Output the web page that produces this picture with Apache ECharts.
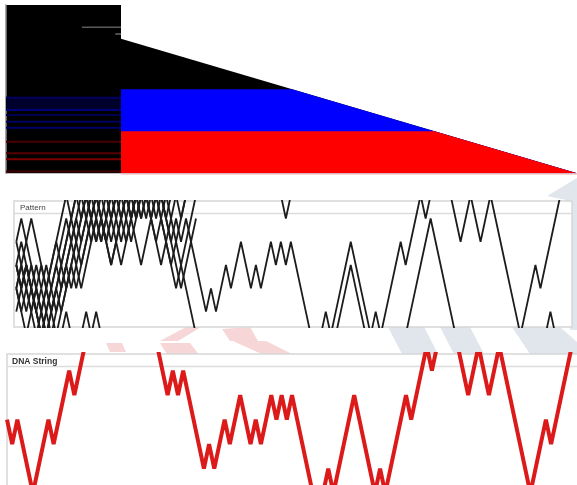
<!DOCTYPE html>
<html><head><meta charset="utf-8">
<script src="https://cdn.jsdelivr.net/npm/echarts/dist/echarts.min.js"></script>
<style>html,body{margin:0;padding:0;background:#fff}#c{width:577px;height:485px}</style>
</head><body><div id="c"></div>
<script>
// ---------- DATA ----------
// DNA walk (one value per base, +1 / -1 steps)
const dnaWalk = [3,2,3,2,1,0,1,2,3,2, 3,4,5,4,5,6,7,8,7,8, 9,10,9,8,9,8,7,8,7,6,
  5,4,5,4,5,4,3,2,1,2, 1,2,3,2,3,4,3,2,3,2, 3,4,3,4,3,4,3,2,1,0,
  -1,0,1,0,1,2,3,4,3,2, 1,0,1,0,1,2,3,4,3,4, 5,6,5,6,7,8,7,6,5,4,
  5,6,5,4,5,6,5,4,3,2, 1,0,1,2,3,2,3,4,5,6, 7];

// pattern walks overlaid at the start of the string
const pattern1 = [2,3,4,5,4,3,2,1,0,1, 2,3,4,5,6,5,6,5,4,5, 6,7,6,5,6,5,6,7,6,5, 6,5,4,3,2,1,0];
const pattern2 = [3,2,3,2,1,0,-1,0,1,2, 3,2,3,2,3,4,5,4,5,6, 5,6,7,6,5,6,7,8,7,8, 9,8,9,10,9,10,11];
const pattern3 = [2,1,2,1,0,1,0,1,2,3, 4,5,4,5,6,5,4,5,4,3, 4,3,4,5,6,5,6,5,4,5, 4,3,2,3,4,5,6];
const pattern4 = [3,4,3,2,1,0,1,0,-1,0, 1,0,-1,0,1,0,1,0,-1,-2, -1,-2,-3,-2,-3,-4,-3,-4,-5,-4, -5,-6,-5,-6,-7,-6,-7];
const pattern5 = [4,5,4,3,2,3,2,3,4,5, 6,5,6,7,6,5,6,5,4,3, 4,5,6,5,4,3,4,5,6,7, 8,7,6,7,8,9,8];
const pattern6 = [2,3,2,3,2,1,2,3,4,3, 4,5,6,5,6,7,6,7,6,5, 6,5,6,5,6,7,8,7,6,5, 4,3,4,5,6,7,8];
const pattern7 = [1,2,3,2,1,2,1,2,3,4, 5,4,5,6,5,6,5,4,5,6, 7,6,5,4,5,6,5,6,7,6, 5,4,3,2,3,4,5];
const pattern8 = [3,2,1,2,3,2,3,2,1,2, 3,4,3,4,5,4,5,6,5,4, 5,4,5,6,5,6,7,6,5,6, 5,6,7,8,9,8,9];
const pattern9 = [2,1,0,1,2,1,2,1,2,3, 2,3,4,3,4,5,4,5,4,5, 6,5,4,5,6,7,6,5,4,3, 4,5,6,5,6,7,8];
const pattern10 = [4,3,2,1,2,1,0,1,2,1, 2,3,2,3,4,5,6,5,6,5, 4,5,6,7,6,7,6,5,6,7, 6,7,8,9,10,11,12];
// other matches further along, with their start position
const match2Start = 63;
const match2 = [-1,0,1,2,3,2,1,0,-1,-2, -3,-2,-3,-2,-1,0,1,2,3,4, 5,4,3,2,1,0,-1,-2,-3,-4, -5,-6,-7,-8,-9,-8,-7,-6,-5,-4, -3,-2,-1,0,1,0,-1,-2];
const match3Start = 47;
const match3 = [8,7,6,7,8,7,6,5,6,7,8];

// top panel: share layers (percent) - total at start, blue cumulative, red
const layerNames = ['all', 'blue', 'red'];
const layerStart = [80, 50, 25];
const layerColors = ['#000000', '#0000ff', '#ff0000'];

// left block rows (level, colour, width, start fraction)
const rowLevels = [41.6, 44.9, 37.6, 34.6, 30.7, 27.1, 18.8, 11.9, 8.3, 1.0, 86.8, 82.8];
const rowColors = ['#00002c', '#00005a', '#00007a', '#000050', '#000060', '#000068', '#4a0000', '#580000', '#7a0000', '#400000', '#5a5a5a', '#666666'];
const rowWidths = [13, 2, 2, 2, 2, 2, 2, 2, 2, 2, 1.5, 1.5];
const rowStarts = [0, 0, 0, 0, 0, 0, 0, 0, 0, 0, 0.66, 0.95];

// ---------- CHART ----------
const chart = echarts.init(document.getElementById('c'), null, {renderer: 'canvas'});
const hidden = {show: false};
function vAxis(gi, min, max, extra) {
  return Object.assign({type: 'value', gridIndex: gi, min: min, max: max, axisLine: hidden, axisTick: hidden, axisLabel: hidden, splitLine: hidden}, extra || {});
}
const grids = [
  {left: 6, top: 5, width: 115, height: 168.3, show: true, backgroundColor: '#000', borderWidth: 0},
  {left: 121, top: 5, width: 456, height: 168.3},
  {left: 16.3, top: 201, width: 549.1, height: 126},
  {left: 7, top: 354, width: 572, height: 131}
];
const xAxes = [
  vAxis(0, 0, 1),
  vAxis(1, 0, 100, {position: 'top', axisLine: {show: true, lineStyle: {color: '#f7cccc', width: 1.5}}}),
  vAxis(2, 0, 110),
  vAxis(3, 0, 110)
];
const yAxes = [
  vAxis(0, 0, 100, {axisLine: {show: true, lineStyle: {color: '#8a8a8a', width: 1.5}}}),
  vAxis(1, 0, 100),
  vAxis(2, 0.34, 5.75),
  vAxis(3, 0.33, 5.68)
];
const series = [];
rowLevels.forEach((lv, i) => {
  series.push({type: 'line', xAxisIndex: 0, yAxisIndex: 0, symbol: 'none', silent: true,
    data: [[rowStarts[i], lv], [1, lv]], lineStyle: {color: rowColors[i], width: rowWidths[i]}});
});
layerStart.forEach((v, i) => {
  const full = layerStart[0];
  const cross = 100 * (1 - v / full);
  const data = i === 0 ? [[0, v], [100, 0]] : [[0, v], [cross, v], [100, 0]];
  series.push({type: 'line', name: layerNames[i], xAxisIndex: 1, yAxisIndex: 1, symbol: 'none', silent: true,
    data: data, lineStyle: {width: 0}, areaStyle: {color: layerColors[i], opacity: 1}, z: 2 + i});
});
function walkData(arr, start, step) { return arr.map((v, j) => [start + j * step, v]); }
const midLine = {color: '#1c1c1c', width: 1.8};
[pattern1, pattern2, pattern3, pattern4, pattern5, pattern6, pattern7, pattern8, pattern9, pattern10].forEach(p => {
  series.push({type: 'line', xAxisIndex: 2, yAxisIndex: 2, symbol: 'none', silent: true, data: walkData(p, 0, 1), lineStyle: midLine});
});
series.push({type: 'line', xAxisIndex: 2, yAxisIndex: 2, symbol: 'none', silent: true, data: walkData(match2, match2Start, 1), lineStyle: midLine});
series.push({type: 'line', xAxisIndex: 2, yAxisIndex: 2, symbol: 'none', silent: true, data: walkData(match3, match3Start, 1), lineStyle: midLine});
series.push({type: 'line', xAxisIndex: 2, yAxisIndex: 2, symbol: 'none', silent: true, data: walkData(dnaWalk, 0, 1), lineStyle: midLine});
series.push({type: 'line', name: 'DNA String', xAxisIndex: 3, yAxisIndex: 3, symbol: 'none', silent: true, data: walkData(dnaWalk, 0, 1), lineStyle: {color: '#dc1a1a', width: 4}});

const gray = '#e1e5ec', pink = '#f6d6d6';
const graphic = [
  {type: 'polygon', z: 0, shape: {points: [[388,327],[424,327],[438,354],[402,354]]}, style: {fill: gray}},
  {type: 'polygon', z: 0, shape: {points: [[440,327],[470,327],[484,354],[454,354]]}, style: {fill: gray}},
  {type: 'polygon', z: 0, shape: {points: [[512,327],[560,327],[577,342],[577,354],[530,354]]}, style: {fill: gray}},
  {type: 'polygon', z: 0, shape: {points: [[547,196],[577,178],[577,330],[570,330],[566,200]]}, style: {fill: gray}},
  {type: 'polygon', z: 0, shape: {points: [[160,341],[186,327],[201,327],[178,341]]}, style: {fill: pink}},
  {type: 'polygon', z: 0, shape: {points: [[222,329],[250,327],[258,341],[230,341]]}, style: {fill: pink}},
  {type: 'polygon', z: 0, shape: {points: [[233,341],[266,341],[298,357],[268,357]]}, style: {fill: pink}},
  {type: 'polygon', z: 0, shape: {points: [[160,343],[190,343],[200,356],[168,356]]}, style: {fill: pink}},
  {type: 'polygon', z: 0, shape: {points: [[106,343],[122,343],[126,352],[110,352]]}, style: {fill: pink}},
  {type: 'rect', z: 1, shape: {x: 14, y: 201, width: 558, height: 126}, style: {fill: '#fff'}},
  {type: 'rect', z: 1, shape: {x: 7, y: 354, width: 575, height: 135}, style: {fill: '#fff'}},
  {type: 'rect', z: 1, shape: {x: 14, y: 201, width: 558, height: 126}, style: {fill: 'none', stroke: '#d6d6d6', lineWidth: 1.5}},
  {type: 'line', z: 1, shape: {x1: 14, y1: 213.5, x2: 572, y2: 213.5}, style: {stroke: '#dcdcdc', lineWidth: 1.5}},
  {type: 'rect', z: 1, shape: {x: 7, y: 354, width: 575, height: 140}, style: {fill: 'none', stroke: '#d6d6d6', lineWidth: 1.5}},
  {type: 'line', z: 1, shape: {x1: 7, y1: 366.5, x2: 577, y2: 366.5}, style: {stroke: '#dcdcdc', lineWidth: 1.5}},
  {type: 'text', z: 1, left: 20, top: 204, style: {text: 'Pattern', fill: '#444', font: '8px "Liberation Sans", Arial, sans-serif'}},
  {type: 'text', z: 1, left: 12, top: 357, style: {text: 'DNA String', fill: '#333', font: 'bold 8.5px "Liberation Sans", Arial, sans-serif'}}
];

chart.setOption({
  animation: false,
  backgroundColor: '#fff',
  grid: grids,
  xAxis: xAxes,
  yAxis: yAxes,
  series: series,
  graphic: graphic
});
</script>
</body></html>
